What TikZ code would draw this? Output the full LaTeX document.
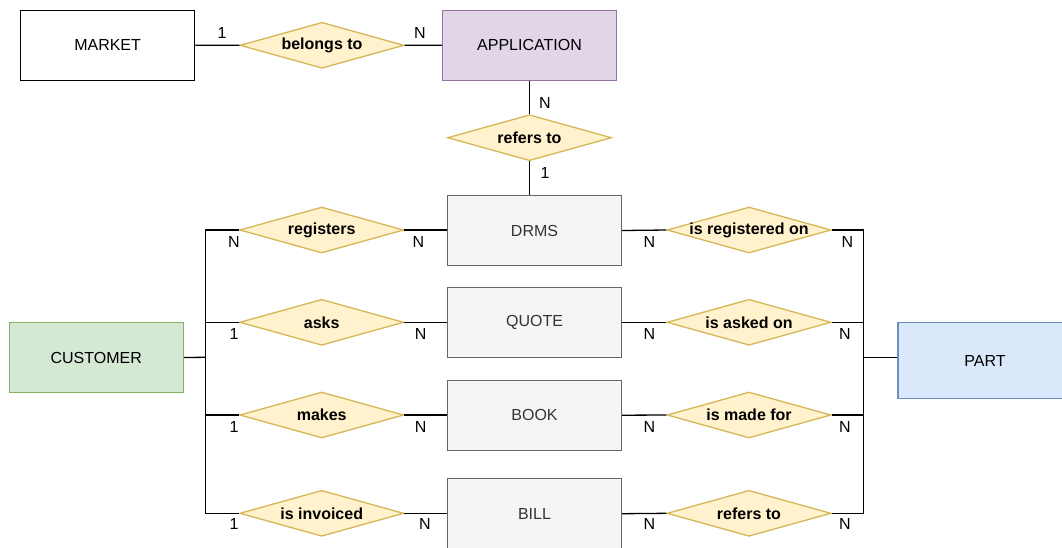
\documentclass[tikz,border=0pt]{standalone}
\usepackage{fontspec}
\setmainfont{Liberation Sans}
\usetikzlibrary{shapes.geometric}

\definecolor{relfill}{HTML}{FFF2CC}
\definecolor{reldraw}{HTML}{D6B656}
\definecolor{appfill}{HTML}{E1D5E7}
\definecolor{appdraw}{HTML}{9673A6}
\definecolor{custfill}{HTML}{D5E8D4}
\definecolor{custdraw}{HTML}{82B366}
\definecolor{partfill}{HTML}{DAE8FC}
\definecolor{partdraw}{HTML}{6C8EBF}
\definecolor{docfill}{HTML}{F5F5F5}
\definecolor{docdraw}{HTML}{666666}
\definecolor{doctext}{HTML}{333333}

\tikzset{
  txt/.style={font=\fontsize{16}{19}\selectfont},
  entity/.style={txt, draw=black, fill=white, line width=1.3pt,
    minimum width=174pt, minimum height=70pt, inner sep=0pt},
  appbox/.style={entity, draw=appdraw, fill=appfill},
  custbox/.style={entity, draw=custdraw, fill=custfill},
  partbox/.style={entity, draw=partdraw, fill=partfill, minimum height=75.6pt},
  docbox/.style={entity, draw=docdraw, fill=docfill, text=doctext},
  rellabel/.style={font=\fontsize{16}{19}\selectfont\bfseries, inner sep=0pt},
  relation/.style={diamond, draw=reldraw, fill=relfill, line width=1.3pt,
    minimum width=164pt, minimum height=46pt, inner sep=0pt,
    label={[rellabel]center:#1}},
  conn/.style={draw=black, line width=1.3pt},
  card/.style={txt, inner sep=0pt},
}

\begin{document}
\begin{tikzpicture}[x=1pt,y=-1pt]
\useasboundingbox (0,0) rectangle (1062,547);
\clip (0,0) rectangle (1062,547);

% entities
\node[entity]  (market)   at (107.6,45.2)  {MARKET};
\node[appbox]  (app)      at (529.5,45.2)  {APPLICATION};
\node[docbox]  (drms)     at (534.5,230.5) {DRMS};
\node[docbox]  (quote)    at (534.5,322.3) {QUOTE};
\node[docbox]  (book)     at (534.5,415.2) {BOOK};
\node[docbox]  (bill)     at (534.5,513.7) {BILL};
\node[custbox] (customer) at (96.2,357.5)  {CUSTOMER};
\node[partbox] (part)     at (985,360.5)   {PART};

% relationships
\node[relation=belongs to]       (belongs)  at (322,45.3)    {};
\node[relation=refers to]        (refapp)   at (529.5,137.7) {};
\node[relation=registers]        (regs)     at (321.7,230)   {};
\node[relation=asks]             (asks)     at (321.7,322.3) {};
\node[relation=makes]            (makes)    at (321.7,415)   {};
\node[relation=is invoiced]      (invoiced) at (321.7,513.3) {};
\node[relation=is registered on] (isreg)    at (749,230)     {};
\node[relation=is asked on]      (isasked)  at (749,322.3)   {};
\node[relation=is made for]      (ismade)   at (749,415)     {};
\node[relation=refers to]        (refbill)  at (749,513.3)   {};

% junctions of the side buses
\coordinate (jl) at (205.3,357.3);
\coordinate (jr) at (863.4,357.3);

% connectors
\draw[conn] (market.east) -- (belongs.west);
\draw[conn] (belongs.east) -- (app.west);
\draw[conn] (app.south) -- (refapp.north);
\draw[conn] (refapp.south) -- (refapp.south |- drms.north);

\draw[conn] (customer.east) -- (jl);
\draw[conn] (regs.west) -- (regs.west -| jl) -- (invoiced.west -| jl) -- (invoiced.west);
\draw[conn] (asks.west) -- (asks.west -| jl);
\draw[conn] (makes.west) -- (makes.west -| jl);

\draw[conn] (regs.east) -- (regs.east -| drms.west);
\draw[conn] (asks.east) -- (asks.east -| quote.west);
\draw[conn] (makes.east) -- (makes.east -| book.west);
\draw[conn] (invoiced.east) -- (invoiced.east -| bill.west);

\draw[conn] (drms.east) -- (isreg.west);
\draw[conn] (quote.east) -- (isasked.west);
\draw[conn] (book.east) -- (ismade.west);
\draw[conn] (bill.east) -- (refbill.west);

\draw[conn] (isreg.east) -- (isreg.east -| jr) -- (refbill.east -| jr) -- (refbill.east);
\draw[conn] (isasked.east) -- (isasked.east -| jr);
\draw[conn] (ismade.east) -- (ismade.east -| jr);
\draw[conn] (jr) -- (jr -| part.west);

% cardinalities
\node[card] (c1)  at (222,33.3)  {1};
\node[card] (c2)  at (420,33.3)  {N};
\node[card] (c3)  at (545,103)   {N};
\node[card] (c4)  at (545,172.5) {1};

\node[card] (c5)  at (234,241.7) {N};
\node[card] (c6)  at (418.5,241.7) {N};
\node[card] (c7)  at (234,334)   {1};
\node[card] (c8)  at (420.7,334) {N};
\node[card] (c9)  at (234,426.8) {1};
\node[card] (c10) at (420.7,426.8) {N};
\node[card] (c11) at (234,524.3) {1};
\node[card] (c12) at (425,524.3) {N};

\node[card] (c13) at (649.5,241.7) {N};
\node[card] (c14) at (847.5,241.7) {N};
\node[card] (c15) at (649.5,334)   {N};
\node[card] (c16) at (845,334)     {N};
\node[card] (c17) at (649.5,426.8) {N};
\node[card] (c18) at (845,426.8)   {N};
\node[card] (c19) at (649.5,524.3) {N};
\node[card] (c20) at (845,524.3)   {N};
\end{tikzpicture}
\end{document}
